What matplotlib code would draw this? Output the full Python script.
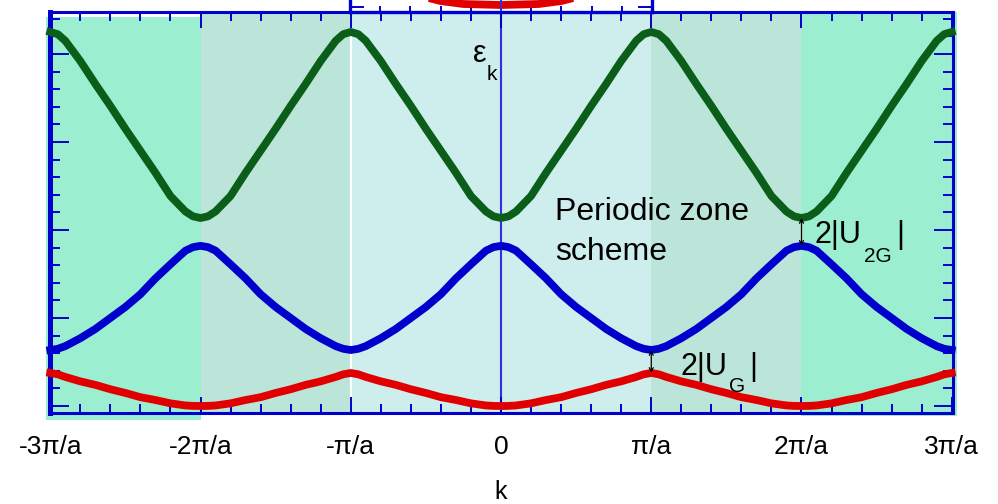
import numpy as np
import matplotlib.pyplot as plt
import matplotlib.transforms as mtransforms
from matplotlib.patches import Rectangle
from matplotlib.ticker import MultipleLocator

plt.rcParams['font.family'] = ['Liberation Sans', 'DejaVu Sans']

# half-period band profiles, k in units of pi/a (0 .. 1)
k_half = [0.0, 0.05, 0.1, 0.2, 0.3, 0.4, 0.5, 0.6, 0.7, 0.8, 0.9, 0.95, 1.0]
band1 = [0.0, 0.001, 0.006, 0.03, 0.068, 0.10, 0.148, 0.19, 0.24, 0.28, 0.33, 0.36, 0.375]
band2 = [1.82, 1.805, 1.765, 1.61, 1.45, 1.27, 1.125, 1.0, 0.875, 0.77, 0.68, 0.65, 0.636]
band3 = [2.136, 2.155, 2.21, 2.386, 2.65, 2.90, 3.15, 3.41, 3.66, 3.92, 4.15, 4.225, 4.25]

# zone edges and colours of the background strips
zone_edges = [-3, -2, -1, 1, 2, 3]
zone_cols = ['#9BEED0', '#BBE5D8', '#CDEEEC', '#BBE5D8', '#9BEED0']

tick_pos = [-3, -2, -1, 0, 1, 2, 3]
tick_lab = ['-3\u03c0/a', '-2\u03c0/a', '-\u03c0/a', '0', '\u03c0/a', '2\u03c0/a', '3\u03c0/a']

# bit of the panel above (only its bottom is visible)
top_k = [-0.65, -0.53, -0.4, -0.25, 0.0, 0.25, 0.4, 0.53, 0.65]
top_e = [22, 16, 11, 8, 7, 8, 11, 16, 22]

BLUE = '#0000CC'
W, H = 998, 504


def periodic(profile):
    t = np.array(k_half)
    p = np.array(profile)
    ks, es = [], []
    for n in range(-3, 3):
        ks.append(n + t)
        es.append(p if n % 2 == 0 else p[::-1])
    return np.concatenate(ks), np.concatenate(es)


fig = plt.figure(figsize=(W / 100, H / 100), dpi=100)
ax = fig.add_axes([49.5 / W, (H - 412.5) / H, 903 / W, 400.5 / H])
ax.set_facecolor('none')
ax.set_xlim(-3.005, 3.005)
ax.set_ylim(-0.074, 4.477)

# background strips
tr = mtransforms.blended_transform_factory(ax.transData, ax.transAxes)
ext = [(-3.027, -0.019, 0.9875), (None, -0.006, 1.0), (None, 0.0, 1.0),
       (None, 0.0, 1.0), (3.034, -0.008, 1.0)]
for i, col in enumerate(zone_cols):
    x0, x1 = zone_edges[i], zone_edges[i + 1]
    lo, y0, y1 = ext[i]
    if i == 0:
        x0 = lo
    if i == 4:
        x1 = lo
    ax.add_patch(Rectangle((x0, y0), x1 - x0, y1 - y0, transform=tr,
                           facecolor=col, edgecolor='none', zorder=0, clip_on=False))

ax.axvline(-1, color='white', lw=1.6, zorder=1)
ax.axvline(0, color='#3030E0', lw=1.5, zorder=1)

for prof, col in [(band1, '#E00000'), (band2, BLUE), (band3, '#0A5E1A')]:
    k, e = periodic(prof)
    ax.plot(k, e, color=col, lw=5.6, zorder=3, clip_on=False,
            solid_joinstyle='round')

# gap arrows
ax.annotate('', xy=(1, band1[-1]), xytext=(1, band2[-1]),
            arrowprops=dict(arrowstyle='<->', color='black', lw=0.9,
                            shrinkA=0, shrinkB=0, mutation_scale=7), zorder=4)
ax.annotate('', xy=(2, band2[0]), xytext=(2, band3[0]),
            arrowprops=dict(arrowstyle='<->', color='black', lw=0.9,
                            shrinkA=0, shrinkB=0, mutation_scale=7), zorder=4)

ax.set_xticks(tick_pos)
ax.set_xticklabels(tick_lab, fontsize=19)
ax.xaxis.set_minor_locator(MultipleLocator(0.2))
ax.yaxis.set_major_locator(MultipleLocator(1))
ax.yaxis.set_minor_locator(MultipleLocator(0.2))
ax.set_yticklabels([])
ax.tick_params(which='both', direction='in', top=True, right=True,
               color=BLUE, width=1.4, labelcolor='black')
ax.tick_params(axis='x', which='major', length=11.5, pad=16)
ax.tick_params(axis='x', which='minor', length=6.5)
ax.tick_params(axis='y', which='major', length=13.5)
ax.tick_params(axis='y', which='minor', length=7.5)
for s in ['top', 'bottom', 'right']:
    ax.spines[s].set_color(BLUE)
    ax.spines[s].set_linewidth(2.2)
ax.spines['left'].set_color(BLUE)
ax.spines['left'].set_linewidth(3.6)

# panel above, cut off
ax2 = fig.add_axes([350 / W, (H - 12) / H, 302 / W, 12 / H])
ax2.set_xlim(-1, 1)
ax2.set_ylim(0, 12)
ax2.plot(top_k, top_e, color='#E00000', lw=5.6)
ax2.axvline(0, color='#3030E0', lw=1.5)
ax2.spines['top'].set_visible(False)
for s in ['bottom', 'left', 'right']:
    ax2.spines[s].set_color(BLUE)
    ax2.spines[s].set_linewidth(2.4)
ax2.set_xticks([-1, 0, 1])
ax2.xaxis.set_minor_locator(MultipleLocator(0.2))
ax2.set_yticks([5])
ax2.tick_params(which='both', direction='in', right=True, color=BLUE,
                width=1.4, labelbottom=False, labelleft=False)
ax2.tick_params(axis='x', which='major', length=8)
ax2.tick_params(axis='x', which='minor', length=4)
ax2.tick_params(axis='y', length=10)


def ftext(px, py, s, size):
    fig.text(px / W, 1 - py / H, s, fontsize=size, va='baseline', ha='left')


ftext(473, 62, '\u03b5', 22)
ftext(487, 80, 'k', 15)
ftext(555, 220, 'Periodic zone', 23)
ftext(555, 260, 'scheme', 23)
ftext(815, 243, '2|U', 22)
ftext(864, 262, '2G', 15)
ftext(896, 243, '|', 22)
ftext(680, 375, '2|U', 22)
ftext(729, 392, 'G', 15)
ftext(749, 375, '|', 22)
fig.text(501 / W, 1 - 499 / H, 'k', fontsize=18, va='baseline', ha='center')

fig.savefig('out.png', dpi=100)
